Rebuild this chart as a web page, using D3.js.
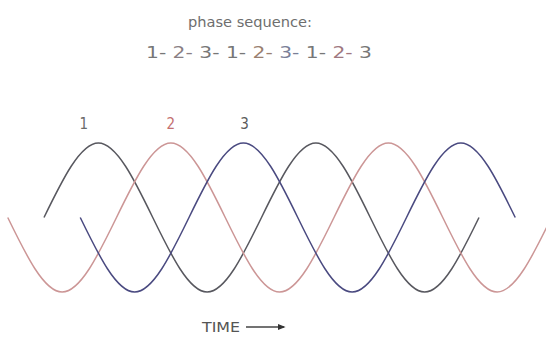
<!DOCTYPE html>
<html>
<head>
<meta charset="utf-8">
<script src="https://cdn.jsdelivr.net/npm/d3@7"></script>
<style>
  body { margin: 0; background: #fff; }
  text { font-family: "Liberation Sans Narrow", "DejaVu Sans Condensed", sans-serif; }
</style>
</head>
<body>
<div id="chart"></div>
<script>
// phase labels and their traces (x in electrical degrees, y as fraction of peak)
const phases = ["1", "2", "3"];
const phaseColors = ["#58585f", "#cc9696", "#4a4a80"];
const labelColors = ["#6a6a6a", "#c47070", "#5a5a5a"];
const labelDeg = [66, 210, 332];

const wave1 = [[0, 0], [90, 1], [180, 0], [270, -1], [360, 0], [450, 1], [540, 0], [630, -1], [720, 0]];
const wave2 = [[-60, 0], [30, -1], [120, 0], [210, 1], [300, 0], [390, -1], [480, 0], [570, 1], [660, 0], [750, -1], [840, 0]];
const wave3 = [[60, 0], [150, -1], [240, 0], [330, 1], [420, 0], [510, -1], [600, 0], [690, 1], [780, 0]];
const waves = [wave1, wave2, wave3];

const sequence = ["1", "2", "3", "1", "2", "3", "1", "2", "3"];
const seqColors = ["#777", "#8a7f84", "#777", "#777", "#9a8070", "#7a7f98", "#777", "#a07880", "#777"];

const width = 546, height = 339;

const svg = d3.select("#chart")
    .append("svg")
    .attr("width", width)
    .attr("height", height);

const x = d3.scaleLinear()
    .domain([0, 720])
    .range([44, 479]);

const y = d3.scaleLinear()
    .domain([-1, 1])
    .range([292, 143]);

const line = d3.line()
    .x(d => x(d[0]))
    .y(d => y(d[1]))
    .curve(d3.curveNatural);

svg.selectAll(".wave")
    .data(waves)
    .enter()
    .append("path")
    .attr("class", "wave")
    .attr("d", line)
    .attr("fill", "none")
    .attr("stroke", (d, i) => phaseColors[i])
    .attr("stroke-width", 1.5);

svg.selectAll(".plabel")
    .data(phases)
    .enter()
    .append("text")
    .attr("class", "plabel")
    .attr("x", (d, i) => x(labelDeg[i]))
    .attr("y", 129)
    .attr("text-anchor", "middle")
    .attr("fill", (d, i) => labelColors[i])
    .style("font-size", "15px")
    .text(d => d);

// heading
svg.append("text")
    .attr("x", 250)
    .attr("y", 27)
    .attr("text-anchor", "middle")
    .attr("textLength", 124)
    .attr("lengthAdjust", "spacingAndGlyphs")
    .attr("fill", "#6e6e6e")
    .style("font-size", "14px")
    .text("phase sequence:");

const seq = svg.append("text")
    .attr("x", 259)
    .attr("y", 58)
    .attr("text-anchor", "middle")
    .attr("textLength", 226)
    .attr("lengthAdjust", "spacingAndGlyphs")
    .style("font-size", "15px");

seq.selectAll("tspan")
    .data(sequence)
    .enter()
    .append("tspan")
    .attr("fill", (d, i) => seqColors[i])
    .text((d, i) => i < sequence.length - 1 ? d + "- " : d);

// time axis caption
svg.append("text")
    .attr("x", 202)
    .attr("y", 332)
    .attr("textLength", 38)
    .attr("lengthAdjust", "spacingAndGlyphs")
    .attr("fill", "#555")
    .style("font-size", "14px")
    .text("TIME");

svg.append("defs").append("marker")
    .attr("id", "arrow")
    .attr("viewBox", "0 0 10 10")
    .attr("refX", 8)
    .attr("refY", 5)
    .attr("markerWidth", 5)
    .attr("markerHeight", 5)
    .attr("orient", "auto")
    .append("path")
    .attr("d", "M0,1 L10,5 L0,9 Z")
    .attr("fill", "#333");

svg.append("line")
    .attr("x1", 246)
    .attr("x2", 284)
    .attr("y1", 327)
    .attr("y2", 327)
    .attr("stroke", "#444")
    .attr("stroke-width", 1.6)
    .attr("marker-end", "url(#arrow)");
</script>
</body>
</html>
